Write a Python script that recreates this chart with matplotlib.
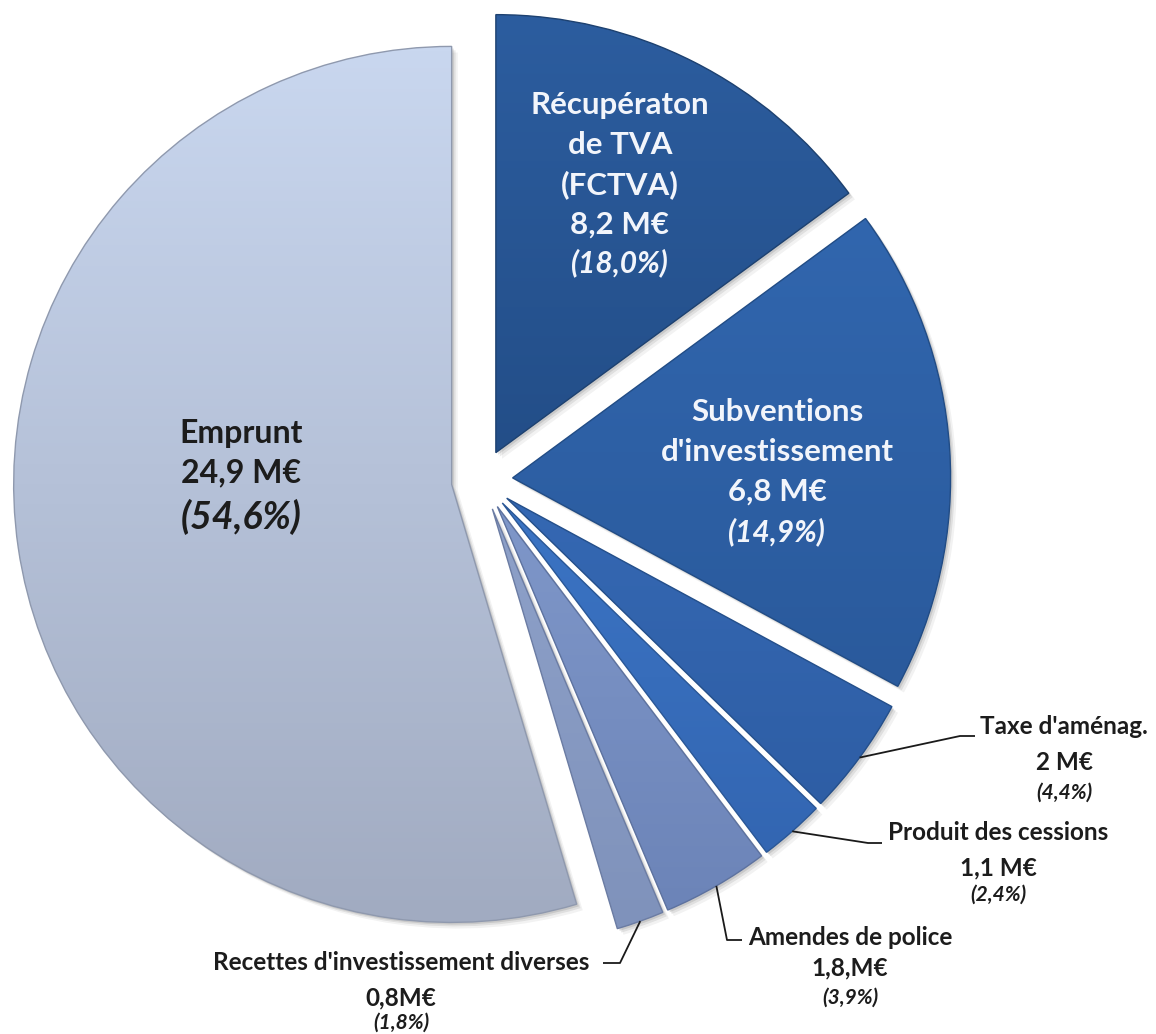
import numpy as np
import matplotlib
matplotlib.use("Agg")
import matplotlib.pyplot as plt
from matplotlib.colors import LinearSegmentedColormap
from matplotlib.patches import Wedge
import matplotlib.transforms as mtransforms

# ---------------- data ----------------
categories = ["Récupératon de TVA (FCTVA)", "Subventions d'investissement",
              "Taxe d'aménag.", "Produit des cessions", "Amendes de police",
              "Recettes d'investissement diverses", "Emprunt"]
# slice sizes as drawn in the picture (M€)
slice_sizes = [6.8, 8.2, 2.0, 1.1, 1.8, 0.8, 24.9]
# label texts as printed
amount_labels = ["8,2 M€", "6,8 M€", "2 M€", "1,1 M€", "1,8,M€", "0,8M€", "24,9 M€"]
share_labels = ["(18,0%)", "(14,9%)", "(4,4%)", "(2,4%)", "(3,9%)", "(1,8%)", "(54,6%)"]

# ---------------- style ----------------
grad_colors = [("#2c5d9f", "#234e88"),   # FCTVA
               ("#3166ae", "#2a5a9c"),   # Subventions
               ("#3568b3", "#2e5ea5"),   # Taxe
               ("#3b74c4", "#3366b2"),   # Produit
               ("#7f97c9", "#6c84b8"),   # Amendes
               ("#8ea1c9", "#7f92bb"),   # Recettes
               ("#c9d7ef", "#a1abc1")]   # Emprunt
edge_colors = ["#1d4170", "#214c85", "#244f8a", "#2a5796", "#5d729f", "#6b7ca3", "#8f99ae"]

W, H, DPI = 1156, 1034, 100
CX, CY, RPX = 482, 480, 438   # pie centre and radius in pixels


def px(x, y):
    return ((x - CX) / RPX, (CY - y) / RPX)


plt.rcParams["font.family"] = ["Lato", "DejaVu Sans"]

fig = plt.figure(figsize=(W / DPI, H / DPI), dpi=DPI)
ax = fig.add_axes([0, 0, 1, 1])
ax.set_facecolor("white")

explode = [0.07] * len(slice_sizes)
wedges, _ = ax.pie(slice_sizes, startangle=90, counterclock=False, explode=explode,
                   radius=1.0, center=(0, 0),
                   wedgeprops=dict(linewidth=1.0))

# shadows + gradient fills
for w, (ct, cb), ec in zip(wedges, grad_colors, edge_colors):
    w.set_edgecolor(ec)
    w.set_zorder(3)
    for k, a in [(0.014, 0.05), (0.009, 0.08), (0.005, 0.10)]:
        sh = Wedge(w.center, w.r, w.theta1, w.theta2, facecolor="black",
                   edgecolor="none", alpha=a, zorder=1)
        sh.set_transform(mtransforms.Affine2D().translate(k, -k) + ax.transData)
        ax.add_patch(sh)
    ext = w.get_path().get_extents()
    cmap = LinearSegmentedColormap.from_list("g", [ct, cb])
    grad = np.linspace(0, 1, 256)[:, None]
    im = ax.imshow(grad, cmap=cmap, extent=[ext.x0, ext.x1, ext.y0, ext.y1],
                   origin="upper", aspect="auto", zorder=2, interpolation="bilinear")
    im.set_clip_path(w)
    w.set_facecolor("none")

ax.set_xlim(-CX / RPX, (W - CX) / RPX)
ax.set_ylim(-(H - CY) / RPX, CY / RPX)
ax.set_aspect("equal")
ax.axis("off")


def put(xp, yp, s, size, color, style="normal", weight="bold"):
    x, y = px(xp, yp)
    ax.text(x, y, s, ha="center", va="center", fontsize=size, color=color,
            fontstyle=style, fontweight=weight, zorder=6)


# inner labels
white = "#f2f5fb"
fct = ["Récupératon", "de TVA", "(FCTVA)", amount_labels[0]]
for s, yy in zip(fct, [105, 145, 185, 225]):
    put(620, yy, s, 22.5, white)
put(620, 263, share_labels[0], 21.5, white, style="italic")

sub = ["Subventions", "d'investissement", amount_labels[1]]
for s, yy in zip(sub, [412, 452, 492]):
    put(777, yy, s, 22.5, white)
put(777, 532, share_labels[1], 21.5, white, style="italic")

dark = "#1c1c1c"
put(241, 433, "Emprunt", 23, dark)
put(241, 473, amount_labels[6], 23, dark)
put(241, 517, share_labels[6], 27, dark, style="italic")

# outer labels: (index, text centre x, line ys, leader elbow points in px)
outer = [
    (2, 1064, [727, 763, 793], [(960, 736), (975, 736)]),
    (3, 998, [833, 868, 895], [(868, 843), (882, 843)]),
    (4, 850, [938, 968, 998], [(727, 940), (742, 940)]),
    (5, 401, [963, 998, 1023], [(620, 963), (603, 963)]),
]
for idx, xc, ys, elbow in outer:
    put(xc, ys[0], categories[idx], 17.5, dark)
    put(xc, ys[1], amount_labels[idx], 17.5, dark)
    put(xc, ys[2], share_labels[idx], 15, dark, style="italic")
    w = wedges[idx]
    mid = np.deg2rad((w.theta1 + w.theta2) / 2)
    sx = w.center[0] + w.r * np.cos(mid)
    sy = w.center[1] + w.r * np.sin(mid)
    pts = [(sx, sy)] + [px(*p) for p in elbow]
    ax.plot([p[0] for p in pts], [p[1] for p in pts], color="#1a1a1a", lw=1.3,
            zorder=7, solid_capstyle="butt")

fig.savefig("out.png", dpi=DPI, facecolor="white")
